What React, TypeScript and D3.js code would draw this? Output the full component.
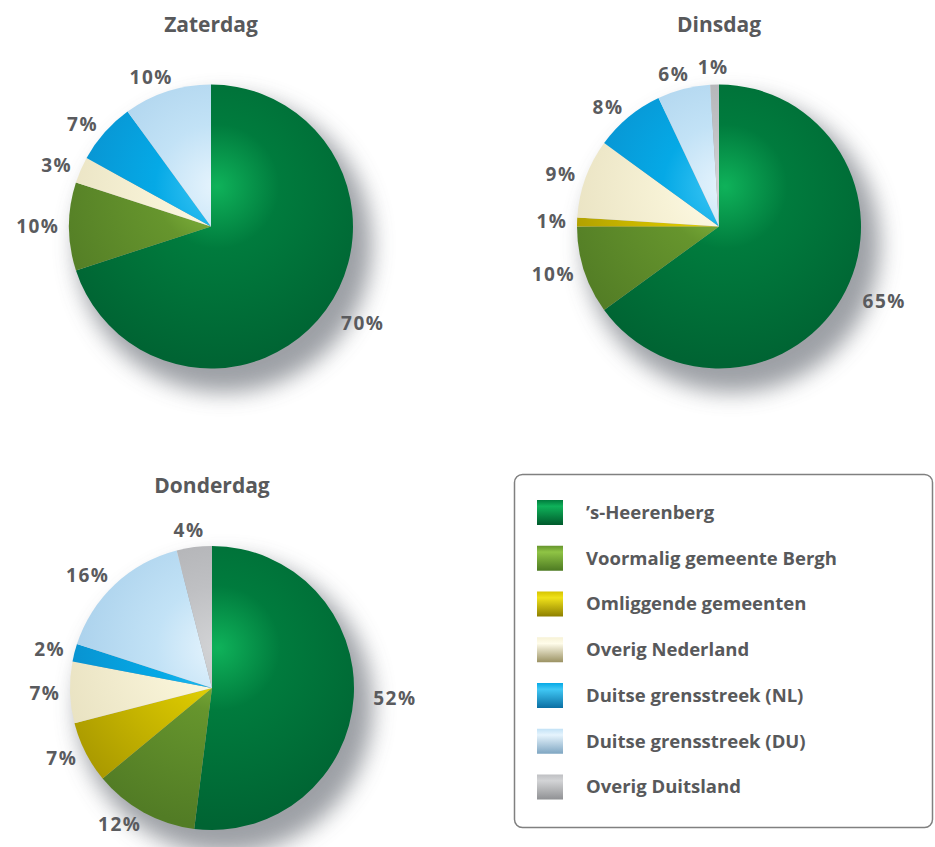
import React from "react";
import * as d3 from "d3";

const categories = [
  "’s-Heerenberg",
  "Voormalig gemeente Bergh",
  "Omliggende gemeenten",
  "Overig Nederland",
  "Duitse grensstreek (NL)",
  "Duitse grensstreek (DU)",
  "Overig Duitsland",
];
const days = ["Zaterdag", "Dinsdag", "Donderdag"];
const zaterdag = [70, 10, 0, 3, 7, 10, 0];
const dinsdag = [65, 10, 1, 9, 8, 6, 1];
const donderdag = [52, 12, 7, 7, 2, 16, 4];
const series = [zaterdag, dinsdag, donderdag];

// highlight, base, dark
const palette = [
  ["#0fb25a", "#007b3d", "#006433"],
  ["#8fc445", "#66952d", "#527c25"],
  ["#f0e21a", "#d6c400", "#a89800"],
  ["#fffcea", "#f7f2d6", "#e7e0bf"],
  ["#40c8f5", "#05a9e6", "#0a8bc9"],
  ["#e6f4fd", "#c2e2f6", "#a2cbe8"],
  ["#d3d4d6", "#bfc0c3", "#a6a7aa"],
];
const legendDark = ["#005a2c", "#4d7a22", "#8d7f00", "#9b9263", "#0b6fa3", "#7fa6c2", "#909194"];

const W = 935;
const H = 847;
const R = 142;
const centers: [number, number][] = [
  [211, 226.5],
  [719, 226.5],
  [212, 688],
];

const LABEL_FS = 19;
const LABEL_LS = 1.5;

export default function App() {
  const pie = d3.pie<number>().sort(null).value((d) => d);
  const arc = d3.arc<d3.PieArcDatum<number>>().innerRadius(0).outerRadius(R);

  return (
    <div style={{ position: "absolute", left: 0, top: 0 }}>
      <svg width={W} height={H} style={{ display: "block", background: "#fff" }}>
        <defs>
          <filter id="blur" x="-50%" y="-50%" width="200%" height="200%">
            <feGaussianBlur stdDeviation="11" />
          </filter>
          {palette.map((c, i) => (
            <radialGradient
              key={"rg" + i}
              id={"rg" + i}
              gradientUnits="userSpaceOnUse"
              cx={6}
              cy={-40}
              r={R * 1.25}
              fx={6}
              fy={-40}
            >
              <stop offset="0" stopColor={c[0]} />
              <stop offset="0.35" stopColor={c[1]} />
              <stop offset="1" stopColor={c[2]} />
            </radialGradient>
          ))}
          {palette.map((c, i) => (
            <linearGradient key={"lg" + i} id={"lg" + i} x1="0" y1="0" x2="0" y2="1">
              <stop offset="0" stopColor={c[1]} />
              <stop offset="0.25" stopColor={c[0]} />
              <stop offset="1" stopColor={legendDark[i]} />
            </linearGradient>
          ))}
        </defs>

        {series.map((vals, si) => {
          const [cx, cy] = centers[si];
          const arcs = pie(vals);
          return (
            <g key={si} transform={`translate(${cx},${cy})`}>
              <text
                x={0}
                y={-R - 53}
                textAnchor="middle"
                fontFamily="'Open Sans', sans-serif"
                fontWeight={700}
                fontSize={21}
                fill="#58595b"
              >
                {days[si]}
              </text>
              <circle cx={13} cy={18} r={R + 6} fill="#8c9096" opacity={0.85} filter="url(#blur)" />
              {arcs.map((a, i) =>
                a.value > 0 ? <path key={i} d={arc(a) || ""} fill={`url(#rg${i})`} /> : null
              )}
              {arcs.map((a, i) => {
                if (a.value <= 0) return null;
                const m = (a.startAngle + a.endAngle) / 2;
                const sx = Math.sin(m);
                const sy = -Math.cos(m);
                const label = `${a.value}%`;
                const half = (label.length * LABEL_FS * 0.56 + label.length * LABEL_LS) / 2;
                const t = Math.max(-1, Math.min(1, sx / 0.5));
                const lr = R + 18 + 5 * Math.sign(sx) * Math.min(1, Math.abs(sx) / 0.5);
                const x = sx * lr + t * half;
                const y = sy * lr;
                return (
                  <text
                    key={"l" + i}
                    x={x}
                    y={y}
                    dy="0.35em"
                    textAnchor="middle"
                    fontFamily="'Open Sans', sans-serif"
                    fontWeight={700}
                    fontSize={LABEL_FS}
                    letterSpacing={LABEL_LS}
                    fill="#5a5b5e"
                  >
                    {label}
                  </text>
                );
              })}
            </g>
          );
        })}

        <g>
          <rect x={514.5} y={474.5} width={418} height={353} rx={8} fill="#fff" stroke="#808080" strokeWidth={1.5} />
          {categories.map((c, i) => {
            const yc = 512.5 + i * 45.75;
            return (
              <g key={c}>
                <rect x={537} y={yc - 12.5} width={26} height={25} fill={`url(#lg${i})`} />
                <text
                  x={586}
                  y={yc}
                  dy="0.35em"
                  fontFamily="'Open Sans', sans-serif"
                  fontWeight={700}
                  fontSize={18.5}
                  fill="#58595b"
                >
                  {c}
                </text>
              </g>
            );
          })}
        </g>
      </svg>
    </div>
  );
}
